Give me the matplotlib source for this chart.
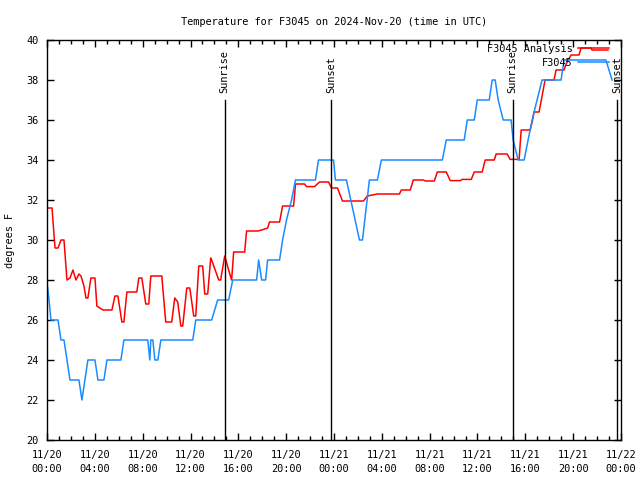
import matplotlib
matplotlib.use("Agg")
import matplotlib.pyplot as plt
from matplotlib.ticker import MultipleLocator

# hours since 2024-11-20 00:00 UTC
obs_hours = [0.0, 0.17, 0.33, 0.92, 1.17, 1.42, 1.92, 2.67, 2.92, 3.17, 3.42, 4.01, 4.26,
             4.76, 5.01, 6.18, 6.43, 8.43, 8.60, 8.68, 8.85, 9.02, 9.27, 9.52, 12.19,
             12.44, 13.77, 14.27, 15.19, 15.53, 17.53, 17.70, 17.95, 18.28, 18.45, 19.45,
             19.70, 20.03, 20.45, 20.78, 22.45, 22.70, 23.96, 24.12, 25.04, 26.13, 26.38,
             26.96, 27.63, 27.96, 33.06, 33.39, 34.89, 35.14, 35.73, 35.98, 36.98, 37.23,
             37.48, 37.73, 38.15, 38.81, 38.98, 39.40, 39.90, 40.23, 40.57, 40.98, 41.40,
             42.99, 43.24, 46.74, 47.25]
obs_temp = [27.9, 27.0, 26, 26, 25, 25, 23, 23, 22, 23, 24, 24, 23,
            23, 24, 24, 25, 25, 24, 25, 25, 24, 24, 25, 25,
            26, 26, 27, 27, 28, 28, 29, 28, 28, 29, 29,
            30, 31, 32, 33, 33, 34, 34, 33, 33, 30, 30,
            33, 33, 34, 34, 35, 35, 36, 36, 37, 37, 38,
            38, 37, 36, 36, 35, 34, 34, 35, 36, 37, 38,
            38, 39, 39, 38]

ana_hours = [0.0, 0.42, 0.67, 0.92, 1.17, 1.42, 1.67, 1.92, 2.17, 2.42, 2.67, 2.84, 3.09,
             3.26, 3.42, 3.67, 4.01, 4.17, 4.67, 5.43, 5.68, 5.93, 6.26, 6.43, 6.68, 7.51,
             7.68, 7.93, 8.26, 8.51, 8.68, 9.60, 9.77, 9.93, 10.43, 10.68, 10.93, 11.19,
             11.35, 11.69, 11.94, 12.27, 12.44, 12.69, 13.02, 13.19, 13.44, 13.69, 13.77,
             14.36, 14.52, 14.86, 15.19, 15.44, 15.61, 16.53, 16.69, 17.61, 17.95, 18.45,
             18.61, 19.45, 19.70, 20.62, 20.78, 21.54, 21.70, 22.37, 22.79, 23.54, 23.79,
             24.29, 24.71, 26.46, 26.79, 27.63, 29.47, 29.63, 30.38, 30.63, 31.47, 31.64,
             32.39, 32.64, 33.39, 33.72, 34.56, 34.72, 35.48, 35.73, 36.39, 36.64, 37.40,
             37.56, 38.48, 38.73, 39.48, 39.65, 40.40, 40.57, 40.73, 41.15, 41.65, 42.40,
             42.57, 43.24, 43.41, 43.82, 44.49, 44.66, 45.49, 45.58, 46.91]
ana_temp = [31.6, 31.6, 29.6, 29.6, 30.0, 30.0, 28.0, 28.1, 28.5, 28.0, 28.3, 28.2, 27.7,
            27.1, 27.1, 28.1, 28.1, 26.7, 26.5, 26.5, 27.2, 27.2, 25.9, 25.9, 27.4, 27.4,
            28.1, 28.1, 26.8, 26.8, 28.2, 28.2, 27.0, 25.9, 25.9, 27.1, 26.9, 25.7,
            25.7, 27.6, 27.6, 26.2, 26.2, 28.7, 28.7, 27.3, 27.3, 29.1, 29.0,
            28.0, 28.0, 29.2, 28.5, 28.0, 29.4, 29.4, 30.45, 30.45, 30.5, 30.6,
            30.9, 30.9, 31.7, 31.7, 32.8, 32.8, 32.67, 32.67, 32.9, 32.9, 32.6,
            32.6, 31.95, 31.95, 32.2, 32.3, 32.3, 32.5, 32.5, 33.0, 33.0, 32.95,
            32.95, 33.4, 33.4, 32.97, 32.97, 33.03, 33.03, 33.4, 33.4, 34.0, 34.0,
            34.3, 34.3, 34.03, 34.03, 35.5, 35.5, 35.9, 36.4, 36.4, 38.0, 38.0,
            38.5, 38.5, 38.8, 39.25, 39.25, 39.6, 39.6, 39.5, 39.5]

sun_events = ["Sunrise", "Sunset", "Sunrise", "Sunset"]
sun_hours = [14.86, 23.76, 38.93, 47.69]

tick_hours = list(range(0, 49, 4))
tick_labels = ["11/20\n00:00", "11/20\n04:00", "11/20\n08:00", "11/20\n12:00",
               "11/20\n16:00", "11/20\n20:00", "11/21\n00:00", "11/21\n04:00",
               "11/21\n08:00", "11/21\n12:00", "11/21\n16:00", "11/21\n20:00",
               "11/22\n00:00"]

FS = 7.4
plt.rcParams['font.family'] = 'DejaVu Sans Mono'
plt.rcParams['font.size'] = FS

fig = plt.figure(figsize=(6.4, 4.8), dpi=100)
ax = fig.add_axes([47 / 640, 40 / 480, 574 / 640, 400 / 480])

ax.plot(ana_hours, ana_temp, color='#ff0000', lw=1.1, label='F3045 Analysis')
ax.plot(obs_hours, obs_temp, color='#1a8cff', lw=1.1, label='F3045')

for name, h in zip(sun_events, sun_hours):
    ax.plot([h, h], [20, 37], color='black', lw=1.0)
    ax.text(h, 37.35, name, rotation=90, ha='center', va='bottom', fontsize=FS)

ax.set_xlim(0, 48)
ax.set_ylim(20, 40)
ax.set_xticks(tick_hours)
ax.set_xticklabels(tick_labels, linespacing=1.55)
ax.xaxis.set_minor_locator(MultipleLocator(1))
ax.set_yticks(range(20, 41, 2))
ax.tick_params(direction='in', top=True, right=True, length=5, width=1, pad=7)
ax.tick_params(axis='y', pad=6)
ax.tick_params(which='minor', direction='in', top=True, length=3, width=1)
for s in ax.spines.values():
    s.set_linewidth(1.0)

ax.set_ylabel('degrees F', labelpad=8)
ax.set_title('Temperature for F3045 on 2024-Nov-20 (time in UTC)', fontsize=FS, pad=11)

ax.legend(loc='upper right', bbox_to_anchor=(0.979, 0.99), frameon=False,
          markerfirst=False, borderpad=0, borderaxespad=0, handlelength=3.0,
          handletextpad=0.5, labelspacing=0.35, fontsize=FS)

fig.savefig('out.png', dpi=100)
